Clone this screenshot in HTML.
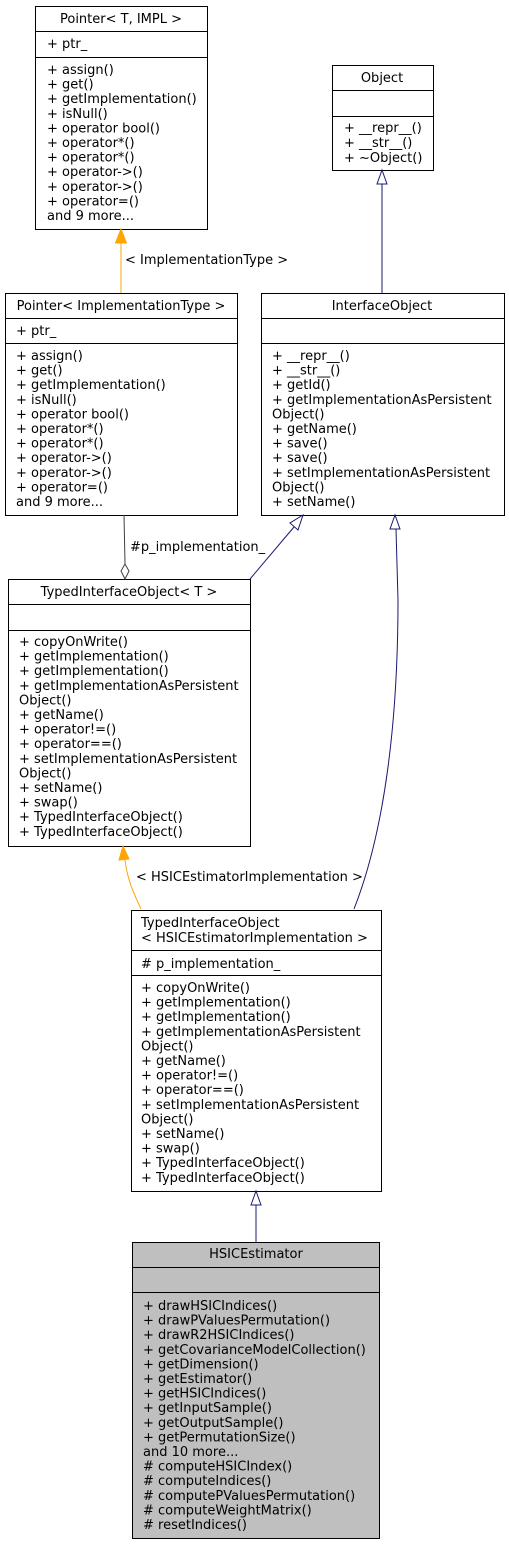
<!DOCTYPE html>
<html><head><meta charset="utf-8"><style>
html,body{margin:0;padding:0;background:#fff;}
svg{display:block;}
text{font-family:"DejaVu Sans","Liberation Sans",sans-serif;font-size:13px;fill:#000;}
.c{text-anchor:middle;}
</style></head><body>
<svg width="509" height="1544" viewBox="0 0 509 1544" xmlns="http://www.w3.org/2000/svg">
<g fill="#fff" stroke="#000" stroke-width="1">
<rect x="35.5" y="6.5" width="172" height="223"/>
<line x1="35" y1="31.5" x2="207" y2="31.5"/><line x1="35" y1="57.5" x2="207" y2="57.5"/>
<rect x="332.5" y="65.5" width="101" height="105"/>
<line x1="332" y1="90.5" x2="433" y2="90.5"/><line x1="332" y1="116.5" x2="433" y2="116.5"/>
<rect x="5.5" y="293.5" width="232" height="222"/>
<line x1="5" y1="318.5" x2="237" y2="318.5"/><line x1="5" y1="343.5" x2="237" y2="343.5"/>
<rect x="261.5" y="293.5" width="243" height="222"/>
<line x1="261" y1="318.5" x2="504" y2="318.5"/><line x1="261" y1="343.5" x2="504" y2="343.5"/>
<rect x="8.5" y="579.5" width="242" height="267"/>
<line x1="8" y1="604.5" x2="250" y2="604.5"/><line x1="8" y1="630.5" x2="250" y2="630.5"/>
<rect x="131.5" y="910.5" width="250" height="281"/>
<line x1="131" y1="950.5" x2="381" y2="950.5"/><line x1="131" y1="975.5" x2="381" y2="975.5"/>
<rect x="132.5" y="1242.5" width="247" height="296" fill="#bfbfbf"/>
<line x1="132" y1="1267.5" x2="379" y2="1267.5"/><line x1="132" y1="1292.5" x2="379" y2="1292.5"/>
</g>

<g fill="none">
<line x1="121" y1="293" x2="121" y2="243" stroke="orange"/>
<polygon points="121,229 115.5,243 126.5,243" fill="orange" stroke="orange"/>
<line x1="382" y1="293" x2="382" y2="184" stroke="#191970"/>
<polygon points="382,170 377,184 387,184" fill="#fff" stroke="#191970"/>
<line x1="124" y1="515" x2="125" y2="564" stroke="#404040"/>
<polygon points="125,564 129,571 125,579 121,571" fill="#fff" stroke="#404040"/>
<line x1="250" y1="579" x2="294" y2="527" stroke="#191970"/>
<polygon points="303,515 290,523 298,530" fill="#fff" stroke="#191970"/>
<path d="M354,909 C385,830 398,720 398,600 L396,529" stroke="#191970"/>
<polygon points="395,515 390,529 400,529" fill="#fff" stroke="#191970"/>
<path d="M141,909 C133,892 127,878 125,860" stroke="orange"/>
<polygon points="123,846 119,860 129,859" fill="orange" stroke="orange"/>
<line x1="256" y1="1242" x2="256" y2="1205" stroke="#191970"/>
<polygon points="256,1191 251,1205 261,1205" fill="#fff" stroke="#191970"/>
</g>
<text x="125" y="264">&lt; ImplementationType &gt;</text>
<text x="130" y="551">#p_implementation_</text>
<text x="136" y="881">&lt; HSICEstimatorImplementation &gt;</text>

<text class="c" x="121" y="23">Pointer&lt; T, IMPL &gt;</text>
<text x="47" y="48">+ ptr_</text>
<text x="47" y="74">+ assign()</text>
<text x="47" y="88.6">+ get()</text>
<text x="47" y="103.2">+ getImplementation()</text>
<text x="47" y="117.8">+ isNull()</text>
<text x="47" y="132.4">+ operator bool()</text>
<text x="47" y="147">+ operator*()</text>
<text x="47" y="161.6">+ operator*()</text>
<text x="47" y="176.2">+ operator-&gt;()</text>
<text x="47" y="190.8">+ operator-&gt;()</text>
<text x="47" y="205.4">+ operator=()</text>
<text x="47" y="220">and 9 more...</text>

<text class="c" x="382" y="82">Object</text>
<text x="344" y="132">+ __repr__()</text>
<text x="344" y="147">+ __str__()</text>
<text x="344" y="162">+ ~Object()</text>

<text class="c" x="121" y="310">Pointer&lt; ImplementationType &gt;</text>
<text x="16" y="335">+ ptr_</text>
<text x="16" y="360">+ assign()</text>
<text x="16" y="374.6">+ get()</text>
<text x="16" y="389.2">+ getImplementation()</text>
<text x="16" y="403.8">+ isNull()</text>
<text x="16" y="418.4">+ operator bool()</text>
<text x="16" y="433">+ operator*()</text>
<text x="16" y="447.6">+ operator*()</text>
<text x="16" y="462.2">+ operator-&gt;()</text>
<text x="16" y="476.8">+ operator-&gt;()</text>
<text x="16" y="491.4">+ operator=()</text>
<text x="16" y="506">and 9 more...</text>

<text class="c" x="382" y="310">InterfaceObject</text>
<text x="272" y="360">+ __repr__()</text>
<text x="272" y="374.6">+ __str__()</text>
<text x="272" y="389.2">+ getId()</text>
<text x="272" y="403.8">+ getImplementationAsPersistent</text>
<text x="272" y="418.4">Object()</text>
<text x="272" y="433">+ getName()</text>
<text x="272" y="447.6">+ save()</text>
<text x="272" y="462.2">+ save()</text>
<text x="272" y="476.8">+ setImplementationAsPersistent</text>
<text x="272" y="491.4">Object()</text>
<text x="272" y="506">+ setName()</text>

<text class="c" x="129" y="596">TypedInterfaceObject&lt; T &gt;</text>
<text x="19" y="646">+ copyOnWrite()</text>
<text x="19" y="660.6">+ getImplementation()</text>
<text x="19" y="675.2">+ getImplementation()</text>
<text x="19" y="689.8">+ getImplementationAsPersistent</text>
<text x="19" y="704.4">Object()</text>
<text x="19" y="719">+ getName()</text>
<text x="19" y="733.6">+ operator!=()</text>
<text x="19" y="748.2">+ operator==()</text>
<text x="19" y="762.8">+ setImplementationAsPersistent</text>
<text x="19" y="777.4">Object()</text>
<text x="19" y="792">+ setName()</text>
<text x="19" y="806.6">+ swap()</text>
<text x="19" y="821.2">+ TypedInterfaceObject()</text>
<text x="19" y="835.8">+ TypedInterfaceObject()</text>

<text x="141" y="927">TypedInterfaceObject</text>
<text x="141" y="942">&lt; HSICEstimatorImplementation &gt;</text>
<text x="141" y="968"># p_implementation_</text>
<text x="141" y="992">+ copyOnWrite()</text>
<text x="141" y="1006.6">+ getImplementation()</text>
<text x="141" y="1021.2">+ getImplementation()</text>
<text x="141" y="1035.8">+ getImplementationAsPersistent</text>
<text x="141" y="1050.4">Object()</text>
<text x="141" y="1065">+ getName()</text>
<text x="141" y="1079.6">+ operator!=()</text>
<text x="141" y="1094.2">+ operator==()</text>
<text x="141" y="1108.8">+ setImplementationAsPersistent</text>
<text x="141" y="1123.4">Object()</text>
<text x="141" y="1138">+ setName()</text>
<text x="141" y="1152.6">+ swap()</text>
<text x="141" y="1167.2">+ TypedInterfaceObject()</text>
<text x="141" y="1181.8">+ TypedInterfaceObject()</text>

<text class="c" x="256" y="1258">HSICEstimator</text>
<text x="143" y="1310">+ drawHSICIndices()</text>
<text x="143" y="1324.6">+ drawPValuesPermutation()</text>
<text x="143" y="1339.2">+ drawR2HSICIndices()</text>
<text x="143" y="1353.8">+ getCovarianceModelCollection()</text>
<text x="143" y="1368.4">+ getDimension()</text>
<text x="143" y="1383">+ getEstimator()</text>
<text x="143" y="1397.6">+ getHSICIndices()</text>
<text x="143" y="1412.2">+ getInputSample()</text>
<text x="143" y="1426.8">+ getOutputSample()</text>
<text x="143" y="1441.4">+ getPermutationSize()</text>
<text x="143" y="1456">and 10 more...</text>
<text x="143" y="1470.6"># computeHSICIndex()</text>
<text x="143" y="1485.2"># computeIndices()</text>
<text x="143" y="1499.8"># computePValuesPermutation()</text>
<text x="143" y="1514.4"># computeWeightMatrix()</text>
<text x="143" y="1529"># resetIndices()</text>
</svg>
</body></html>
